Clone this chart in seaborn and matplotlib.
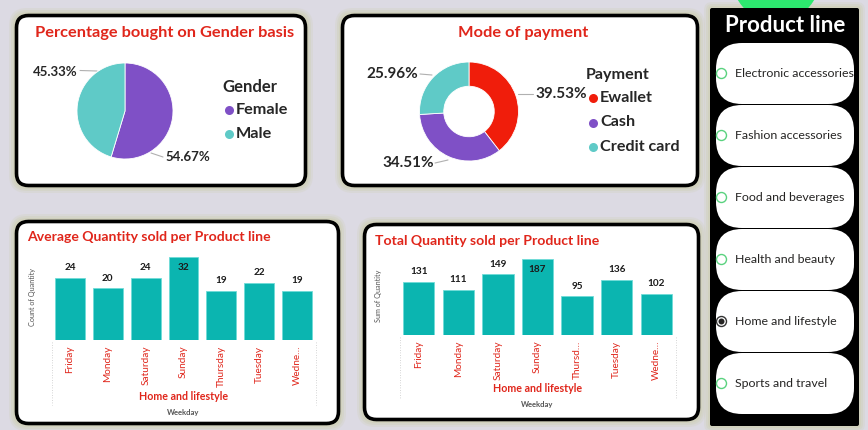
import numpy as np
import pandas as pd
import matplotlib
matplotlib.use("Agg")
import matplotlib.pyplot as plt
import seaborn as sns
from matplotlib.patches import FancyBboxPatch, Circle

# ---------------- data ----------------
gender_labels = ["Female", "Male"]
gender_pct = [54.67, 45.33]
payment_labels = ["Ewallet", "Cash", "Credit card"]
payment_pct = [39.53, 34.51, 25.96]
weekdays = ["Friday", "Monday", "Saturday", "Sunday", "Thursday", "Tuesday", "Wednesday"]
avg_qty = [24, 20, 24, 32, 19, 22, 19]
total_qty = [131, 111, 149, 187, 95, 136, 102]
avg_ticks = ["Friday", "Monday", "Saturday", "Sunday", "Thursday", "Tuesday", "Wedne…"]
total_ticks = ["Friday", "Monday", "Saturday", "Sunday", "Thursd…", "Tuesday", "Wedne…"]
product_lines = ["Electronic accessories", "Fashion accessories", "Food and beverages",
                 "Health and beauty", "Home and lifestyle", "Sports and travel"]
selected_line = "Home and lifestyle"

# ---------------- style ----------------
sns.set_theme(style="white")
plt.rcParams["font.family"] = ["Lato", "DejaVu Sans"]

W, H = 868, 430
BG = "#dcdae3"
GLOW = "#cfcfb4"
RED_T = "#e0261b"
PURPLE = "#7f50c6"
TEAL = "#5fcac7"
EW_RED = "#f01d0b"
BAR = "#0bb5b0"
GREEN = "#2de86f"

fig = plt.figure(figsize=(W / 100, H / 100), dpi=100)
fig.patch.set_facecolor(BG)

bg = fig.add_axes([0, 0, 1, 1])
bg.set_xlim(0, W)
bg.set_ylim(H, 0)
bg.axis("off")
bg.set_zorder(0)


def px_axes(x0, y0, x1, y1, z=2):
    ax = fig.add_axes([x0 / W, 1 - y1 / H, (x1 - x0) / W, (y1 - y0) / H])
    ax.set_zorder(z)
    ax.patch.set_alpha(0)
    return ax


def glow(x0, y0, x1, y1, r):
    for g, a in ((6, 0.25), (4, 0.35), (2, 0.5)):
        bg.add_patch(FancyBboxPatch((x0 - g, y0 - g), x1 - x0 + 2 * g, y1 - y0 + 2 * g,
                                    boxstyle=f"round,pad=0,rounding_size={r + g}",
                                    fc=GLOW, ec="none", alpha=a))


def card(x0, y0, x1, y1, r=12):
    glow(x0, y0, x1, y1, r)
    bg.add_patch(FancyBboxPatch((x0 + 1.5, y0 + 1.5), x1 - x0 - 3, y1 - y0 - 3,
                                boxstyle=f"round,pad=0,rounding_size={r}",
                                fc="white", ec="black", lw=2.6))


card(15, 14, 307, 187)
card(341, 14, 699, 187)
card(15, 220, 340, 425)
card(363, 223, 700, 421)

# ---------------- pie: gender ----------------
cx, cy, r = 125, 111, 48
axp = px_axes(cx - r, cy - r, cx + r, cy + r)
axp.pie(gender_pct, colors=[PURPLE, TEAL], startangle=90, counterclock=False,
        wedgeprops=dict(linewidth=0.6, edgecolor="white"))
axp.set_xlim(-1, 1)
axp.set_ylim(-1, 1)

bg.text(165, 33, "Percentage bought on Gender basis", color=RED_T, fontsize=11.8,
        fontweight="bold", ha="center", va="center")
bg.plot([80, 97], [70.5, 71], color="#b0b0b0", lw=0.8)
bg.text(78, 72, f"{gender_pct[1]:.2f}%", fontsize=9.5, fontweight="bold", ha="right", va="center")
bg.plot([151, 163], [153, 157], color="#b0b0b0", lw=0.8)
bg.text(165, 157, f"{gender_pct[0]:.2f}%", fontsize=9.5, fontweight="bold", ha="left", va="center")

bg.text(222, 87, "Gender", fontsize=12, fontweight="bold", ha="left", va="center")
for i, (lab, col) in enumerate(zip(gender_labels, [PURPLE, TEAL])):
    yy = 110 + i * 24
    bg.plot([229], [yy], "o", ms=6.5, color=col, mec="none")
    bg.text(236, yy, lab, fontsize=11.7, fontweight="bold", ha="left", va="center")

# ---------------- donut: payment ----------------
cx, cy, r = 469, 111.5, 49.5
axd = px_axes(cx - r, cy - r, cx + r, cy + r)
axd.pie(payment_pct, colors=[EW_RED, PURPLE, TEAL], startangle=90, counterclock=False,
        wedgeprops=dict(width=0.49, linewidth=0.6, edgecolor="white"))
axd.set_xlim(-1, 1)
axd.set_ylim(-1, 1)

bg.text(523, 33, "Mode of payment", color=RED_T, fontsize=11.8, fontweight="bold",
        ha="center", va="center")
bg.plot([420, 432], [74, 75], color="#b0b0b0", lw=0.8)
bg.text(418, 74, f"{payment_pct[2]:.2f}%", fontsize=11, fontweight="bold", ha="right", va="center")
bg.plot([518, 533], [94, 94], color="#b0b0b0", lw=0.8)
bg.text(535, 94, f"{payment_pct[0]:.2f}%", fontsize=11, fontweight="bold", ha="left", va="center")
bg.plot([435, 448], [163, 160], color="#b0b0b0", lw=0.8)
bg.text(434, 163, f"{payment_pct[1]:.2f}%", fontsize=11, fontweight="bold", ha="right", va="center")

bg.text(586, 75, "Payment", fontsize=11.6, fontweight="bold", ha="left", va="center")
for i, (lab, col) in enumerate(zip(payment_labels, [EW_RED, PURPLE, TEAL])):
    yy = 98 + i * 24.5
    bg.plot([593], [yy], "o", ms=6.5, color=col, mec="none")
    bg.text(600, yy, lab, fontsize=11.6, fontweight="bold", ha="left", va="center")


# ---------------- bar charts ----------------
def bar_chart(box, values, ticks, title, title_xy, ylabel, ylabel_x, sub_y, dots_y):
    x0, y0, x1, y1 = box
    ax = px_axes(x0, y0, x1, y1)
    df = pd.DataFrame({"Weekday": weekdays, "Quantity": values})
    sns.barplot(data=df, x="Weekday", y="Quantity", color=BAR, saturation=1,
                width=0.79, ax=ax, edgecolor="#6fdcd8", linewidth=0.6)
    ax.set_xlim(-0.5, len(values) - 0.5)
    ax.set_ylim(0, max(values))
    ax.set_xticks(range(len(values)))
    ax.set_xticklabels(ticks, rotation=90, color=RED_T, fontsize=7.2)
    ax.tick_params(axis="x", length=0, pad=4)
    ax.set_yticks([])
    ax.set_xlabel("")
    ax.set_ylabel("")
    for s in ax.spines.values():
        s.set_visible(False)
    vmax = max(values)
    for i, v in enumerate(values):
        inside = v == vmax
        ax.annotate(str(v), (i, v), xytext=(0, -4 if inside else 4), textcoords="offset points",
                    ha="center", va="top" if inside else "bottom", fontsize=7.2,
                    fontweight="bold", color="#1a1a1a")
    bg.text(title_xy[0], title_xy[1], title, color=RED_T, fontsize=10.1, fontweight="bold",
            ha="left", va="center")
    bg.text(ylabel_x, (y0 + y1) / 2 - 1, ylabel, rotation=90, fontsize=5.2, color="#555555",
            ha="center", va="center")
    cxm = (x0 + x1) / 2
    bg.text(cxm, sub_y, "Home and lifestyle", color=RED_T, fontsize=7.7, fontweight="bold",
            ha="center", va="center")
    bg.text(cxm, sub_y + 16, "Weekday", color="#555555", fontsize=5.5, fontweight="bold",
            ha="center", va="center")
    for xx in (x0 + 1, x1):
        bg.plot([xx, xx], [y1 + 2, dots_y], color="#c8c8c8", lw=0.6, ls=(0, (1, 2)))


bar_chart((51, 257, 316, 340), avg_qty, avg_ticks, "Average Quantity sold per Product line",
          (27, 237), "Count of Quantity", 32, 396, 405)
bar_chart((399, 259, 676, 335), total_qty, total_ticks, "Total Quantity sold per Product line",
          (375, 241), "Sum of Quantity", 379, 389, 398)

# ---------------- slicer panel ----------------
glow(710, 8, 859, 426, 2)
bg.add_patch(Circle((776, -22), 44, fc=GREEN, ec="none"))
bg.add_patch(FancyBboxPatch((710, 8), 149, 418, boxstyle="round,pad=0,rounding_size=2",
                            fc="black", ec="none"))
bg.text(785, 25, "Product line", color="white", fontsize=16, fontweight="bold",
        ha="center", va="center")
for i, name in enumerate(product_lines):
    y0 = 43 + i * 62
    bg.add_patch(FancyBboxPatch((716, y0), 138, 61, boxstyle="round,pad=0,rounding_size=26",
                                fc="white", ec="none"))
    yc = y0 + 30.5
    if name == selected_line:
        bg.add_patch(Circle((721.5, yc), 5, fc="white", ec="#333333", lw=1.0))
        bg.add_patch(Circle((721.5, yc), 3, fc="#252423", ec="none"))
    else:
        bg.add_patch(Circle((721.5, yc), 5, fc="white", ec="#5ad27f", lw=1.0))
    bg.text(735, yc, name, fontsize=8.95, color="#252423", ha="left", va="center")

fig.savefig("out.png", dpi=100, facecolor=BG)
